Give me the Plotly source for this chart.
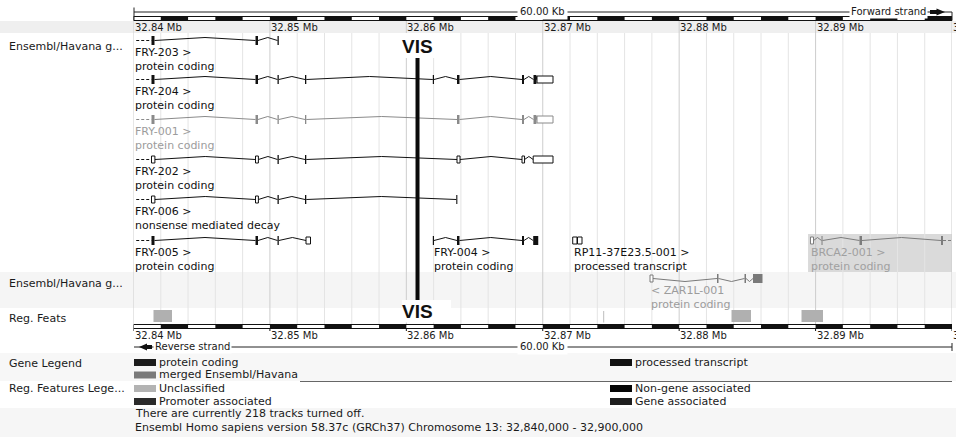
import plotly.graph_objects as go

W, H = 956, 437
FONT = "DejaVu Sans"

# ---- genomic window (chromosome 13) ----
X0, X1 = 32_840_000, 32_900_000
PX0, PX1 = 133.5, 952.0          # plot column in page pixels

tick_pos = [32_840_000, 32_850_000, 32_860_000, 32_870_000, 32_880_000, 32_890_000, 32_900_000]
tick_labels = ["32.84 Mb", "32.85 Mb", "32.86 Mb", "32.87 Mb", "32.88 Mb", "32.89 Mb", "32.90 Mb"]
grid_step = 2_000

# ---- transcripts: exons as (start, end, style)  f = coding block, o = UTR outline ----
fry203_exons = [(32841319, 32841539, "f"), (32848943, 32849126, "f"), (32850556, 32850651, "f")]
fry204_exons = [(32841319, 32841539, "f"), (32848943, 32849126, "f"), (32850556, 32850651, "f"),
                (32852572, 32852667, "f"), (32861940, 32862028, "f"), (32863714, 32863897, "f"),
                (32868479, 32868626, "f"), (32869322, 32869542, "f"), (32869579, 32870752, "o")]
fry001_exons = [(32841319, 32841539, "f"), (32848943, 32849126, "f"), (32850556, 32850651, "f"),
                (32852572, 32852667, "f"), (32863714, 32863897, "f"),
                (32868479, 32868626, "f"), (32869322, 32869542, "f"), (32869579, 32870752, "o")]
fry202_exons = [(32841319, 32841569, "o"), (32848943, 32849156, "o"), (32850556, 32850651, "f"),
                (32852572, 32852667, "f"), (32863714, 32863937, "o"),
                (32868479, 32868666, "o"), (32869300, 32870752, "o")]
fry006_exons = [(32841319, 32841569, "o"), (32848943, 32849156, "o"), (32850556, 32850651, "f"),
                (32852572, 32852667, "f"), (32863660, 32863740, "f")]
fry005_exons = [(32841319, 32841539, "f"), (32848943, 32849126, "f"), (32850556, 32850651, "f"),
                (32852645, 32852975, "o")]
fry004_exons = [(32861940, 32862028, "f"), (32863714, 32863897, "f"),
                (32868479, 32868626, "f"), (32869300, 32869670, "f")]
rp11_exons = [(32872196, 32872511, "o"), (32872548, 32872878, "o")]
brca2_exons = [(32889627, 32889847, "o"), (32890435, 32890508, "f"),
               (32893219, 32893402, "f"), (32899194, 32899341, "f")]
zar1l_exons = [(32877862, 32878082, "o"), (32882773, 32882883, "f"),
               (32884789, 32884899, "f"), (32885412, 32886109, "f")]

# ---- regulatory features ----
reg_feats = [(32841466, 32842822), (32883836, 32885266), (32888968, 32890544)]
reg_marker = 32874468
vis_pos = 32860820

# transcript name, biotype, exons, row y, colour, label colour, open left, open right, strand
transcripts = [
    ("FRY-203 &gt;", "protein coding", fry203_exons, 40.5, "#111111", "#111111", True, False, 1),
    ("FRY-204 &gt;", "protein coding", fry204_exons, 79.5, "#111111", "#111111", True, False, 1),
    ("FRY-001 &gt;", "protein coding", fry001_exons, 119.5, "#8a8a8a", "#9c9c9c", True, False, 1),
    ("FRY-202 &gt;", "protein coding", fry202_exons, 159.5, "#111111", "#111111", True, False, 1),
    ("FRY-006 &gt;", "nonsense mediated decay", fry006_exons, 199.5, "#111111", "#111111", True, False, 1),
    ("FRY-005 &gt;", "protein coding", fry005_exons, 240.5, "#111111", "#111111", True, False, 1),
    ("FRY-004 &gt;", "protein coding", fry004_exons, 240.5, "#111111", "#111111", False, False, 1),
    ("RP11-37E23.5-001 &gt;", "processed transcript", rp11_exons, 240.5, "#111111", "#111111", False, False, 1),
    ("BRCA2-001 &gt;", "protein coding", brca2_exons, 240.5, "#7c7c7c", "#a0a0a0", False, True, 1),
    ("&lt; ZAR1L-001", "protein coding", zar1l_exons, 278.5, "#7a7a7a", "#9c9c9c", False, False, -1),
]

# ---- legends ----
gene_legend = [("protein coding", "#1c1c1c"), ("merged Ensembl/Havana", "#7a7a7a"),
               ("processed transcript", "#111111")]
reg_legend = [("Unclassified", "#b3b3b3"), ("Promoter associated", "#2b2b2b"),
              ("Non-gene associated", "#050505"), ("Gene associated", "#1e1e1e")]
footer = ["There are currently 218 tracks turned off.",
          "Ensembl Homo sapiens version 58.37c (GRCh37) Chromosome 13: 32,840,000 - 32,900,000"]

shapes, anns = [], []


def P(xp):
    """page pixel column -> paper x"""
    return xp / W


def rect(x0, x1, y0, y1, fill, line=None, xref="x", layer="above", lw=1):
    shapes.append(dict(type="rect", xref=xref, yref="y", x0=x0, x1=x1, y0=y0, y1=y1,
                       fillcolor=fill, layer=layer,
                       line=dict(color=line or "rgba(0,0,0,0)", width=lw if line else 0)))


def seg(x0, y0, x1, y1, color, xref="x", width=1, layer="above", dash=None):
    ln = dict(color=color, width=width)
    if dash:
        ln["dash"] = dash
    shapes.append(dict(type="line", xref=xref, yref="y", x0=x0, y0=y0, x1=x1, y1=y1,
                       line=ln, layer=layer))


def text(s, x, y, size=11, color="#1a1a1a", xref="paper", xanchor="left", bold=False,
         bg=None, family=FONT, pad=0):
    a = dict(text=s, x=x, y=y, xref=xref, yref="y", xanchor=xanchor, yanchor="middle",
             showarrow=False, borderpad=pad,
             font=dict(family=family, size=size, color=color, weight="bold" if bold else "normal"))
    if bg:
        a["bgcolor"] = bg
    anns.append(a)


# ---- background bands ----
rect(0, 1, 21, 33, "#efefef", xref="paper", layer="below")
rect(0, 1, 272, 308, "#f5f5f5", xref="paper", layer="below")
rect(0, 1, 353, 381, "#f7f7f7", xref="paper", layer="below")
rect(0, 1, 408, 437, "#f6f6f6", xref="paper", layer="below")

# BRCA2 highlight
rect(brca2_exons[0][0] - 180, X1, 234, 272, "#dadada", layer="below")

# ---- vertical guide lines every 2 kb ----
g = X0
while g <= X1:
    major = (g - X0) % 10_000 == 0
    seg(g, 21 if major else 33, g, 324, "#cdcdcd" if major else "#e4e4e4", layer="below")
    g += grid_step

# white panels behind the VIS marks
rect(vis_pos - 1060, vis_pos + 2300, 33, 58, "white", layer="below")
rect(vis_pos - 1150, vis_pos + 2450, 300, 322.5, "white", layer="below")

# ---- scale bars (top and bottom) ----
for y0, y1 in [(16.5, 20.5), (324.5, 328.5)]:
    rect(X0, X1, y0, y1, "white", line="#111111", layer="below")
    b = X0 + 2_000
    while b < X1:
        rect(b, b + 2_000, y0, y1, "#111111", layer="below")
        b += 4_000
for t in tick_pos:
    seg(t, 328.5, t, 331, "#111111")

# top ruler line with strand arrow
seg(P(134), 12, P(952), 12, "#222222", xref="paper")
seg(P(134), 7.5, P(134), 20.5, "#222222", xref="paper")
seg(P(952), 12, P(952), 20.5, "#222222", xref="paper")
rect(P(930), P(937), 10, 14, "#111111", xref="paper")
shapes.append(dict(type="path", xref="paper", yref="y", layer="above",
                   path=f"M {P(936.5)},8.5 L {P(945)},12 L {P(936.5)},15.5 Z",
                   fillcolor="#111111", line=dict(width=0)))
text("60.00 Kb", P(542.5), 11.5, size=10, xanchor="center", bg="white", pad=2)
text("Forward strand", P(928), 11.5, size=10, xanchor="right", bg="white", pad=1)

# bottom ruler line with strand arrow
seg(P(134), 347, P(952), 347, "#222222", xref="paper")
seg(P(952), 343, P(952), 351, "#222222", xref="paper")
rect(P(146.5), P(152), 345, 349, "#111111", xref="paper")
shapes.append(dict(type="path", xref="paper", yref="y", layer="above",
                   path=f"M {P(147)},343.5 L {P(139)},347 L {P(147)},350.5 Z",
                   fillcolor="#111111", line=dict(width=0)))
text("Reverse strand", P(153), 346.5, size=10, bg="white", pad=1)
text("60.00 Kb", P(542.5), 346.5, size=10, xanchor="center", bg="white", pad=2)

for t, lab in zip(tick_pos, tick_labels):
    text(lab, t, 27.5, size=10, xref="x", color="#1a1a1a")
    text(lab, t, 335.5, size=10, xref="x", color="#1a1a1a")

# ---- transcripts ----
intron_x = {}
intron_y = {}
for name, biotype, exons, y, col, lcol, open_l, open_r, strand in transcripts:
    xs, ys = intron_x.setdefault(col, []), intron_y.setdefault(col, [])
    for (s0, e0, _), (s1, e1, _) in zip(exons[:-1], exons[1:]):
        mid = (e0 + s1) / 2
        xs += [e0, mid, s1, None]
        ys += [y, y - 3 * strand, y, None]
    if open_l:
        seg(X0 + 200, y, exons[0][0], y, col, dash="3px,2px")
    if open_r:
        seg(exons[-1][1], y, X1, y, col, dash="3px,2px")
    for s, e, kind in exons:
        if kind == "f":
            rect(s, e, y - 4.5, y + 4.5, col)
        else:
            rect(s, e, y - 3.5, y + 3.5, "white", line=col)
    lx = X0 if open_l else exons[0][0]
    text(name, lx, y + 12, color=lcol, xref="x")
    text(biotype, lx, y + 26, color=lcol, xref="x")

# ---- regulatory features ----
for s, e in reg_feats:
    rect(s, e, 310, 322, "#b0b0b0")
seg(reg_marker, 311, reg_marker, 322.5, "#bdbdbd")

# ---- VIS marker ----
seg(vis_pos, 58, vis_pos, 300, "#0a0a0a", width=4)
text("VIS", vis_pos, 46.5, size=19, xref="x", xanchor="center", bold=True,
     family="Liberation Sans", color="#111111")
text("VIS", vis_pos, 311.5, size=19, xref="x", xanchor="center", bold=True,
     family="Liberation Sans", color="#111111")

# ---- track labels ----
text("Ensembl/Havana g...", P(8), 46.5)
text("Ensembl/Havana g...", P(8), 283)
text("Reg. Feats", P(8), 318)
text("Gene Legend", P(8), 363.5)
text("Reg. Features Lege...", P(8), 388)

# ---- legends ----
gene_slots = [(134, 362.5), (134, 375), (610, 362.5)]
for (lab, col), (lx, ly) in zip(gene_legend, gene_slots):
    rect(P(lx), P(lx + 22), ly - 3.5, ly + 3.5, col, xref="paper")
    text(lab, P(lx + 24), ly - 0.5)
seg(P(300), 381.5, P(952), 381.5, "#666666", xref="paper")
reg_slots = [(134, 388.5), (134, 401.5), (610, 388.5), (610, 401.5)]
for (lab, col), (lx, ly) in zip(reg_legend, reg_slots):
    rect(P(lx), P(lx + 22), ly - 3.5, ly + 3.5, col, xref="paper")
    text(lab, P(lx + 24), ly - 0.5)

text(footer[0], P(134), 413.5, size=11)
text(footer[1], P(134), 427.5, size=11)

fig = go.Figure()
for col in intron_x:
    fig.add_trace(go.Scatter(x=intron_x[col], y=intron_y[col], mode="lines",
                             line=dict(color=col, width=1), hoverinfo="skip",
                             showlegend=False, connectgaps=False))

fig.update_layout(
    width=W, height=H, margin=dict(l=0, r=0, t=0, b=0),
    paper_bgcolor="white", plot_bgcolor="rgba(0,0,0,0)",
    xaxis=dict(range=[X0, X1], domain=[PX0 / W, PX1 / W], visible=False, fixedrange=True),
    yaxis=dict(range=[H, 0], domain=[0, 1], visible=False, fixedrange=True),
    shapes=shapes, annotations=anns, showlegend=False, hovermode=False,
)
fig.write_html("out.html", config={"displayModeBar": False})
